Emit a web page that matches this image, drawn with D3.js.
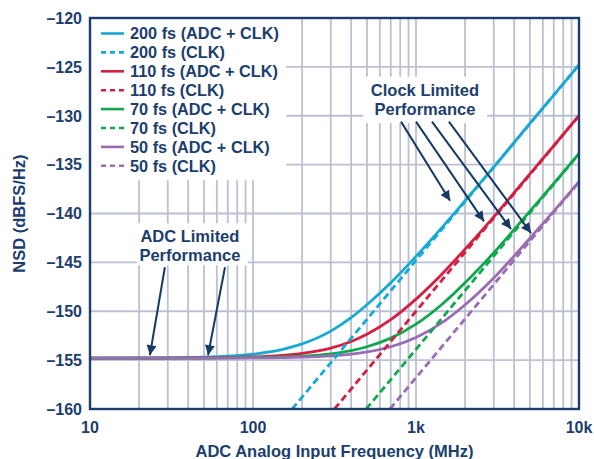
<!DOCTYPE html>
<html>
  <head>
    <meta charset="utf-8">
    <style>
      body { margin: 0; background: #fff; }
      svg { display: block; font-family: "Liberation Sans", Arial, sans-serif; font-weight: bold; }
      .grid line { stroke: #bcc0d2; stroke-width: 1.8px; }
      .lbl { fill: #1c3e6e; }
    </style>
  </head>
  <body>
    <script src="https://cdn.jsdelivr.net/npm/d3@7"></script>
    <script>
    var width = 594, height = 459;

    // input frequency (MHz) for the ADC + CLK curves
    var freq = [10, 20, 50, 100, 150, 200, 300, 400, 500, 700, 1000, 1500, 2000, 3000, 5000, 7000, 10000];

    // NSD (dBFS/Hz), ADC + CLK
    var adc200 = [-154.8, -154.78, -154.69, -154.39, -153.92, -153.34, -152.03, -150.66, -149.34, -147.09, -144.39, -141.11, -138.69, -135.25, -130.78, -127.89, -124.8];
    var adc110 = [-154.8, -154.8, -154.77, -154.67, -154.51, -154.31, -153.77, -153.09, -152.35, -150.86, -148.76, -145.9, -143.65, -140.34, -135.94, -133.07, -129.99];
    var adc70  = [-154.8, -154.8, -154.79, -154.75, -154.68, -154.59, -154.35, -154.02, -153.63, -152.75, -151.32, -149.05, -147.09, -144.02, -139.76, -136.93, -133.86];
    var adc50  = [-154.8, -154.8, -154.8, -154.77, -154.74, -154.69, -154.56, -154.39, -154.16, -153.63, -152.68, -150.98, -149.34, -146.59, -142.53, -139.76, -136.73];

    // clock only (dashed) – straight lines on log axis
    var clk200f = [174, 1000, 10000], clk200 = [-160, -144.8, -124.8];
    var clk110f = [316, 1000, 10000], clk110 = [-160, -150.0, -130.0];
    var clk70f  = [495, 1000, 10000], clk70  = [-160, -153.9, -133.9];
    var clk50f  = [692, 1000, 10000], clk50  = [-160, -156.8, -136.8];

    var names = ["200 fs", "110 fs", "70 fs", "50 fs"];
    var colors = ["#16a9d6", "#d41f41", "#0fa84c", "#9a6cb4"];

    var yTicks = [-160, -155, -150, -145, -140, -135, -130, -125, -120];
    var xTicks = [10, 100, 1000, 10000];
    var xTickLabels = ["10", "100", "1k", "10k"];
    var minorX = [20, 30, 40, 50, 60, 70, 80, 90, 200, 300, 400, 500, 600, 700, 800, 900, 2000, 3000, 4000, 5000, 6000, 7000, 8000, 9000];

    var margin = {left: 90, top: 18, right: 15, bottom: 50};

    var x = d3.scaleLog().domain([10, 10000]).range([margin.left, width - margin.right]);
    var y = d3.scaleLinear().domain([-160, -120]).range([height - margin.bottom, margin.top]);

    var svg = d3.select("body").append("svg")
        .attr("width", width)
        .attr("height", height);

    svg.append("clipPath").attr("id", "clip")
      .append("rect")
        .attr("x", x(10)).attr("y", y(-120))
        .attr("width", x(10000) - x(10)).attr("height", y(-160) - y(-120));

    // grid
    var grid = svg.append("g").attr("class", "grid");
    grid.selectAll(".hx").data(yTicks).enter().append("line")
        .attr("x1", x(10)).attr("x2", x(10000))
        .attr("y1", function(d){ return y(d); }).attr("y2", function(d){ return y(d); });
    grid.selectAll(".vx").data(minorX.concat([100, 1000])).enter().append("line")
        .attr("y1", y(-160)).attr("y2", y(-120))
        .attr("x1", function(d){ return x(d); }).attr("x2", function(d){ return x(d); });

    // white boxes behind legend and notes
    function box(f0, f1, v0, v1) {
      svg.append("rect")
          .attr("x", x(f0)).attr("y", y(v1))
          .attr("width", x(f1) - x(f0)).attr("height", y(v0) - y(v1))
          .attr("fill", "#fff");
    }
    box(10, 160, -136.6, -120);
    box(19.4, 93, -145.3, -141.0);
    box(473, 2730, -130.75, -126.0);

    var line = d3.line()
        .x(function(d){ return x(d[0]); })
        .y(function(d){ return y(d[1]); })
        .curve(d3.curveMonotoneX);

    var plot = svg.append("g").attr("clip-path", "url(#clip)");

    var solids = [adc200, adc110, adc70, adc50];
    var dashF = [clk200f, clk110f, clk70f, clk50f];
    var dashV = [clk200, clk110, clk70, clk50];

    solids.forEach(function(s, i) {
      plot.append("path")
          .datum(d3.zip(freq, s))
          .attr("d", line)
          .attr("fill", "none")
          .attr("stroke", colors[i])
          .attr("stroke-width", 2.8);
    });
    dashV.forEach(function(s, i) {
      plot.append("path")
          .datum(d3.zip(dashF[i], s))
          .attr("d", d3.line().x(function(d){ return x(d[0]); }).y(function(d){ return y(d[1]); }))
          .attr("fill", "none")
          .attr("stroke", colors[i])
          .attr("stroke-width", 2.8)
          .attr("stroke-dasharray", "7,4");
    });

    // arrows (tail and tip in data units)
    svg.append("defs").append("marker")
        .attr("id", "head")
        .attr("viewBox", "0 0 10 10")
        .attr("refX", 10).attr("refY", 5)
        .attr("markerWidth", 7).attr("markerHeight", 5)
        .attr("markerUnits", "strokeWidth")
        .attr("orient", "auto")
      .append("path")
        .attr("d", "M0,0 L10,5 L0,10 Z")
        .attr("fill", "#163a64");

    var arrows = [
      [[28.8, -145.5], [23.3, -154.5]],
      [[67.3, -145.5], [53.0, -154.5]],
      [[809, -130.6], [1618, -138.7]],
      [[1000, -130.6], [2612, -140.8]],
      [[1253, -130.6], [3828, -141.6]],
      [[1592, -130.6], [5080, -142.0]]
    ];
    svg.selectAll(".arrow").data(arrows).enter().append("line")
        .attr("x1", function(d){ return x(d[0][0]); })
        .attr("y1", function(d){ return y(d[0][1]); })
        .attr("x2", function(d){ return x(d[1][0]); })
        .attr("y2", function(d){ return y(d[1][1]); })
        .attr("stroke", "#163a64")
        .attr("stroke-width", 2)
        .attr("marker-end", "url(#head)");

    // frame
    svg.append("rect")
        .attr("x", x(10)).attr("y", y(-120))
        .attr("width", x(10000) - x(10)).attr("height", y(-160) - y(-120))
        .attr("fill", "none")
        .attr("stroke", "#1b3d6a")
        .attr("stroke-width", 2.4);

    // y tick labels
    svg.selectAll(".yt").data(yTicks).enter().append("text")
        .attr("class", "lbl")
        .attr("x", x(10) - 8)
        .attr("y", function(d){ return y(d); })
        .attr("dy", "0.36em")
        .attr("text-anchor", "end")
        .style("font-size", "16px")
        .text(function(d){ return "\u2013" + Math.abs(d); });

    // x tick labels
    svg.selectAll(".xt").data(xTicks).enter().append("text")
        .attr("class", "lbl")
        .attr("x", function(d){ return x(d); })
        .attr("y", 433)
        .attr("text-anchor", "middle")
        .style("font-size", "16px")
        .text(function(d, i){ return xTickLabels[i]; });

    svg.append("text").attr("class", "lbl")
        .attr("x", (x(10) + x(10000)) / 2)
        .attr("y", 457)
        .attr("text-anchor", "middle")
        .style("font-size", "16.5px")
        .text("ADC Analog Input Frequency (MHz)");

    svg.append("text").attr("class", "lbl")
        .attr("transform", "translate(25," + ((y(-120) + y(-160)) / 2) + ") rotate(-90)")
        .attr("text-anchor", "middle")
        .style("font-size", "16.5px")
        .text("NSD (dBFS/Hz)");

    // legend
    var legendRows = [];
    names.forEach(function(n, i) {
      legendRows.push({label: n + " (ADC + CLK)", color: colors[i], dash: null});
      legendRows.push({label: n + " (CLK)", color: colors[i], dash: "5,4"});
    });
    var lg = svg.append("g").attr("transform", "translate(101,33.5)");
    var row = lg.selectAll("g").data(legendRows).enter().append("g")
        .attr("transform", function(d, i){ return "translate(0," + (i * 18.9) + ")"; });
    row.append("line")
        .attr("x1", 0).attr("x2", 23)
        .attr("stroke", function(d){ return d.color; })
        .attr("stroke-width", 2.6)
        .attr("stroke-dasharray", function(d){ return d.dash; });
    row.append("text").attr("class", "lbl")
        .attr("x", 29)
        .attr("dy", "0.36em")
        .style("font-size", "16.3px")
        .text(function(d){ return d.label; });

    // notes
    function note(f, v, lines) {
      var t = svg.append("text").attr("class", "lbl")
          .attr("text-anchor", "middle")
          .style("font-size", "16.5px");
      lines.forEach(function(s, i) {
        t.append("tspan").attr("x", x(f)).attr("y", y(v) + i * 19).text(s);
      });
    }
    note(41, -142.9, ["ADC Limited", "Performance"]);
    note(1135, -128.0, ["Clock Limited", "Performance"]);
    </script>
  </body>
</html>
